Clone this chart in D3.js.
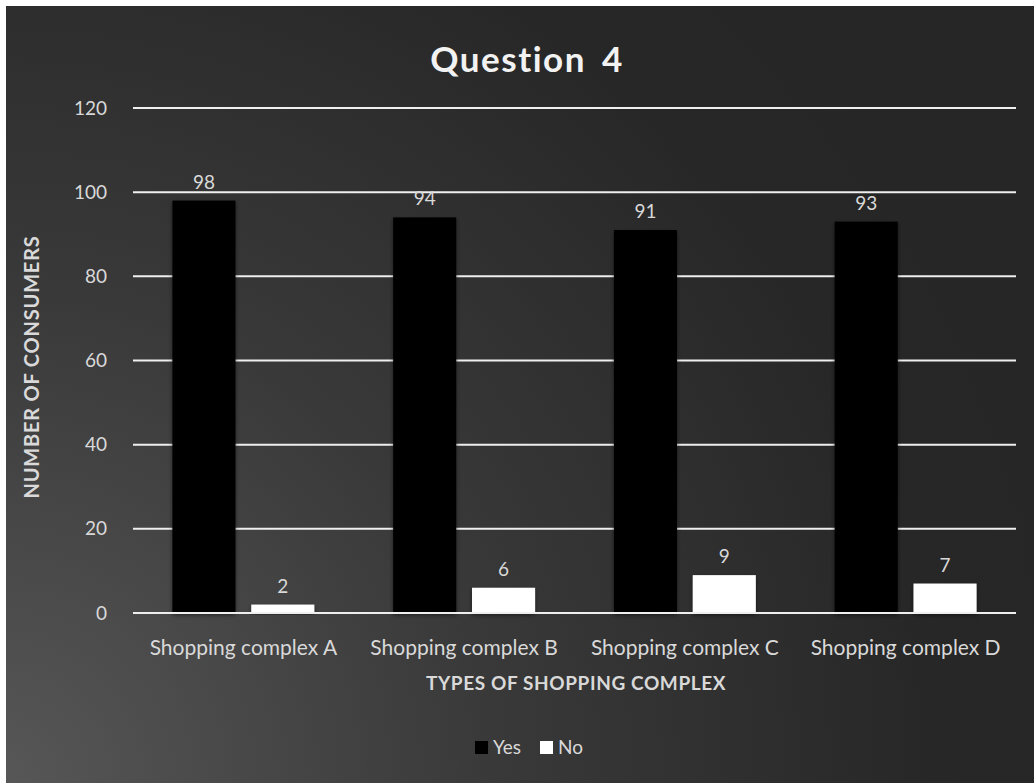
<!DOCTYPE html>
<html><head><meta charset="utf-8">
<script src="https://cdn.jsdelivr.net/npm/d3@7"></script>
<style>body{margin:0;background:#fff;}svg{display:block;}text{font-family:Lato,"Open Sans",sans-serif;}</style>
</head><body>
<svg id="c" width="1034" height="783"></svg>
<script>
const categories = ["Shopping complex A","Shopping complex B","Shopping complex C","Shopping complex D"];
const seriesNames = ["Yes","No"];
const yesValues = [98,94,91,93];
const noValues = [2,6,9,7];
const yTicks = [0,20,40,60,80,100,120];
const title = "Question 4";
const xTitle = "TYPES OF SHOPPING COMPLEX";
const yTitle = "NUMBER OF CONSUMERS";
const colors = {Yes:"#000000", No:"#ffffff"};

(function(){
const svg = d3.select("#c");
const defs = svg.append("defs");
const g1 = defs.append("radialGradient").attr("id","bg").attr("gradientUnits","userSpaceOnUse")
  .attr("cx",0).attr("cy",783).attr("r",1100);
g1.append("stop").attr("offset","0").attr("stop-color","#575757");
g1.append("stop").attr("offset","0.45").attr("stop-color","#393939");
g1.append("stop").attr("offset","0.85").attr("stop-color","#272727");
g1.append("stop").attr("offset","1").attr("stop-color","#262626");
const f = defs.append("filter").attr("id","sh").attr("x","-20%").attr("y","-20%").attr("width","140%").attr("height","140%");
f.append("feDropShadow").attr("dx",0).attr("dy",2).attr("stdDeviation",2).attr("flood-color","#000").attr("flood-opacity",0.5);

svg.append("rect").attr("x",6).attr("y",6).attr("width",1028).attr("height",777).attr("fill","url(#bg)");

const pLeft=133, pRight=1016, pTop=108, pBottom=613;
const x = d3.scaleBand().domain(categories).range([pLeft,pRight]).paddingInner(0).paddingOuter(0);
const xs = d3.scaleBand().domain(seriesNames).range([0,x.bandwidth()]).paddingInner(0.2).paddingOuter(0.5);
const y = d3.scaleLinear().domain([0,120]).range([pBottom,pTop]);

svg.append("g").selectAll("line").data(yTicks.filter(d=>d>0)).join("line")
  .attr("x1",pLeft).attr("x2",pRight).attr("y1",d=>y(d)).attr("y2",d=>y(d))
  .attr("stroke","#efefef").attr("stroke-width",2);

svg.append("g").selectAll("text").data(yTicks).join("text")
  .attr("x",107).attr("y",d=>y(d)).attr("dy","0.35em").attr("text-anchor","end")
  .attr("fill","#d9d9d9").attr("font-size",19).text(d=>d);

const data = categories.map((c,i)=>({c, vals:[{s:"Yes",v:yesValues[i]},{s:"No",v:noValues[i]}]}));
const grp = svg.append("g").selectAll("g").data(data).join("g").attr("transform",d=>`translate(${x(d.c)},0)`);
grp.selectAll("rect").data(d=>d.vals).join("rect")
  .attr("x",d=>xs(d.s)).attr("width",xs.bandwidth())
  .attr("y",d=>y(d.v)).attr("height",d=>y(0)-y(d.v))
  .attr("fill",d=>colors[d.s]).attr("filter","url(#sh)");
grp.selectAll("text").data(d=>d.vals).join("text")
  .attr("x",d=>xs(d.s)+xs.bandwidth()/2).attr("y",d=>y(d.v)-12)
  .attr("text-anchor","middle").attr("fill","#d9d9d9").attr("font-size",19).text(d=>d.v);

svg.append("line").attr("x1",pLeft).attr("x2",pRight).attr("y1",y(0)).attr("y2",y(0))
  .attr("stroke","#efefef").attr("stroke-width",2);

svg.append("g").selectAll("text").data(categories).join("text")
  .attr("x",d=>x(d)+x.bandwidth()/2).attr("y",655).attr("text-anchor","middle")
  .attr("fill","#d9d9d9").attr("font-size",21).text(d=>d);

svg.append("text").attr("x",527).attr("y",72).attr("text-anchor","middle")
  .attr("fill","#f2f2f2").attr("font-size",35).attr("font-weight","bold").attr("letter-spacing","1.5").attr("word-spacing","6").text(title);
svg.append("text").attr("x",576).attr("y",690).attr("text-anchor","middle")
  .attr("fill","#d9d9d9").attr("font-size",19).attr("font-weight","bold").attr("letter-spacing","0.6").text(xTitle);
svg.append("text").attr("transform","translate(39,367) rotate(-90)").attr("text-anchor","middle")
  .attr("fill","#d9d9d9").attr("font-size",20).attr("font-weight","bold").attr("letter-spacing","0.8").text(yTitle);

const lg = svg.append("g");
const items = [{s:"Yes",x:475},{s:"No",x:540}];
items.forEach(it=>{
  lg.append("rect").attr("x",it.x).attr("y",741).attr("width",13).attr("height",13).attr("fill",colors[it.s]);
  lg.append("text").attr("x",it.x+18).attr("y",754).attr("fill","#d9d9d9").attr("font-size",19).text(it.s);
});
})();
</script>
</body></html>
